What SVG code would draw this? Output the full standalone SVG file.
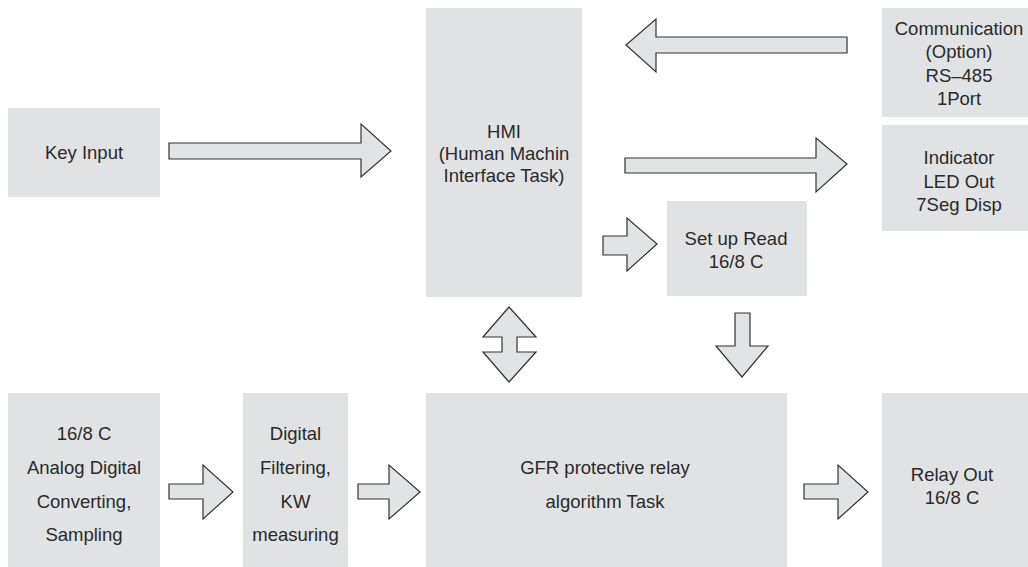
<svg xmlns="http://www.w3.org/2000/svg" width="1028" height="567" viewBox="0 0 1028 567">
<style>
.box{fill:#e1e2e4;stroke:none}
.t{font-family:"Liberation Sans",Arial,sans-serif;font-size:18.5px;fill:#2a2a2a;text-anchor:middle}
.arr{fill:#e2e3e5;stroke:#333;stroke-width:1.2;stroke-linejoin:miter}
</style>
<rect width="1028" height="567" fill="#fff"/>
<g id="key-input"><rect class="box" x="8" y="108" width="152" height="89"/><text class="t" x="84" y="159">Key Input</text></g>
<g id="hmi"><rect class="box" x="426" y="8" width="156" height="289"/>
<text class="t" x="504" y="138">HMI</text><text class="t" x="504" y="160">(Human Machin</text><text class="t" x="504" y="182">Interface Task)</text></g>
<g id="communication"><rect class="box" x="882" y="8" width="146" height="109"/>
<text class="t" x="959" y="35">Communication</text><text class="t" x="959" y="58">(Option)</text><text class="t" x="959" y="82">RS–485</text><text class="t" x="959" y="105">1Port</text></g>
<g id="indicator"><rect class="box" x="882" y="125" width="146" height="106"/>
<text class="t" x="959" y="164">Indicator</text><text class="t" x="959" y="188">LED Out</text><text class="t" x="959" y="211">7Seg Disp</text></g>
<g id="setup-read"><rect class="box" x="667" y="201" width="140" height="95"/>
<text class="t" x="736" y="245">Set up Read</text><text class="t" x="736" y="268">16/8 C</text></g>
<g id="adc"><rect class="box" x="8" y="393" width="152" height="174"/>
<text class="t" x="84" y="440">16/8 C</text><text class="t" x="84" y="474">Analog Digital</text><text class="t" x="84" y="508">Converting,</text><text class="t" x="84" y="541">Sampling</text></g>
<g id="digital-filtering"><rect class="box" x="243" y="393" width="105" height="174"/>
<text class="t" x="295.5" y="440">Digital</text><text class="t" x="295.5" y="474">Filtering,</text><text class="t" x="295.5" y="508">KW</text><text class="t" x="295.5" y="541">measuring</text></g>
<g id="gfr"><rect class="box" x="426" y="393" width="361" height="174"/>
<text class="t" x="605" y="474">GFR protective relay</text><text class="t" x="605" y="508">algorithm Task</text></g>
<g id="relay-out"><rect class="box" x="882" y="393" width="146" height="174"/>
<text class="t" x="952" y="481">Relay Out</text><text class="t" x="952" y="504">16/8 C</text></g>
<g id="connectors">
<polygon class="arr" points="169,143 361,143 361,124 391,151 361,177 361,159 169,159"/>
<polygon class="arr" points="847,37 656,37 656,19 626,45 656,72 656,53 847,53"/>
<polygon class="arr" points="625,158 816,158 816,138 847,164 816,192 816,173 625,173"/>
<polygon class="arr" points="603,236 627,236 627,218 657,244 627,271 627,255 603,255"/>
<polygon class="arr" points="509,307 536,337 517,337 517,352 536,352 509,382 483,352 502,352 502,337 483,337"/>
<polygon class="arr" points="735,313 750,313 750,346 768,346 742,377 716,346 735,346"/>
<polygon class="arr" points="169,484 203,484 203,465 233,492 203,519 203,499 169,499"/>
<polygon class="arr" points="358,484 389,484 389,465 420,492 389,519 389,499 358,499"/>
<polygon class="arr" points="804,484 838,484 838,465 868,492 838,519 838,499 804,499"/>
</g>
</svg>
